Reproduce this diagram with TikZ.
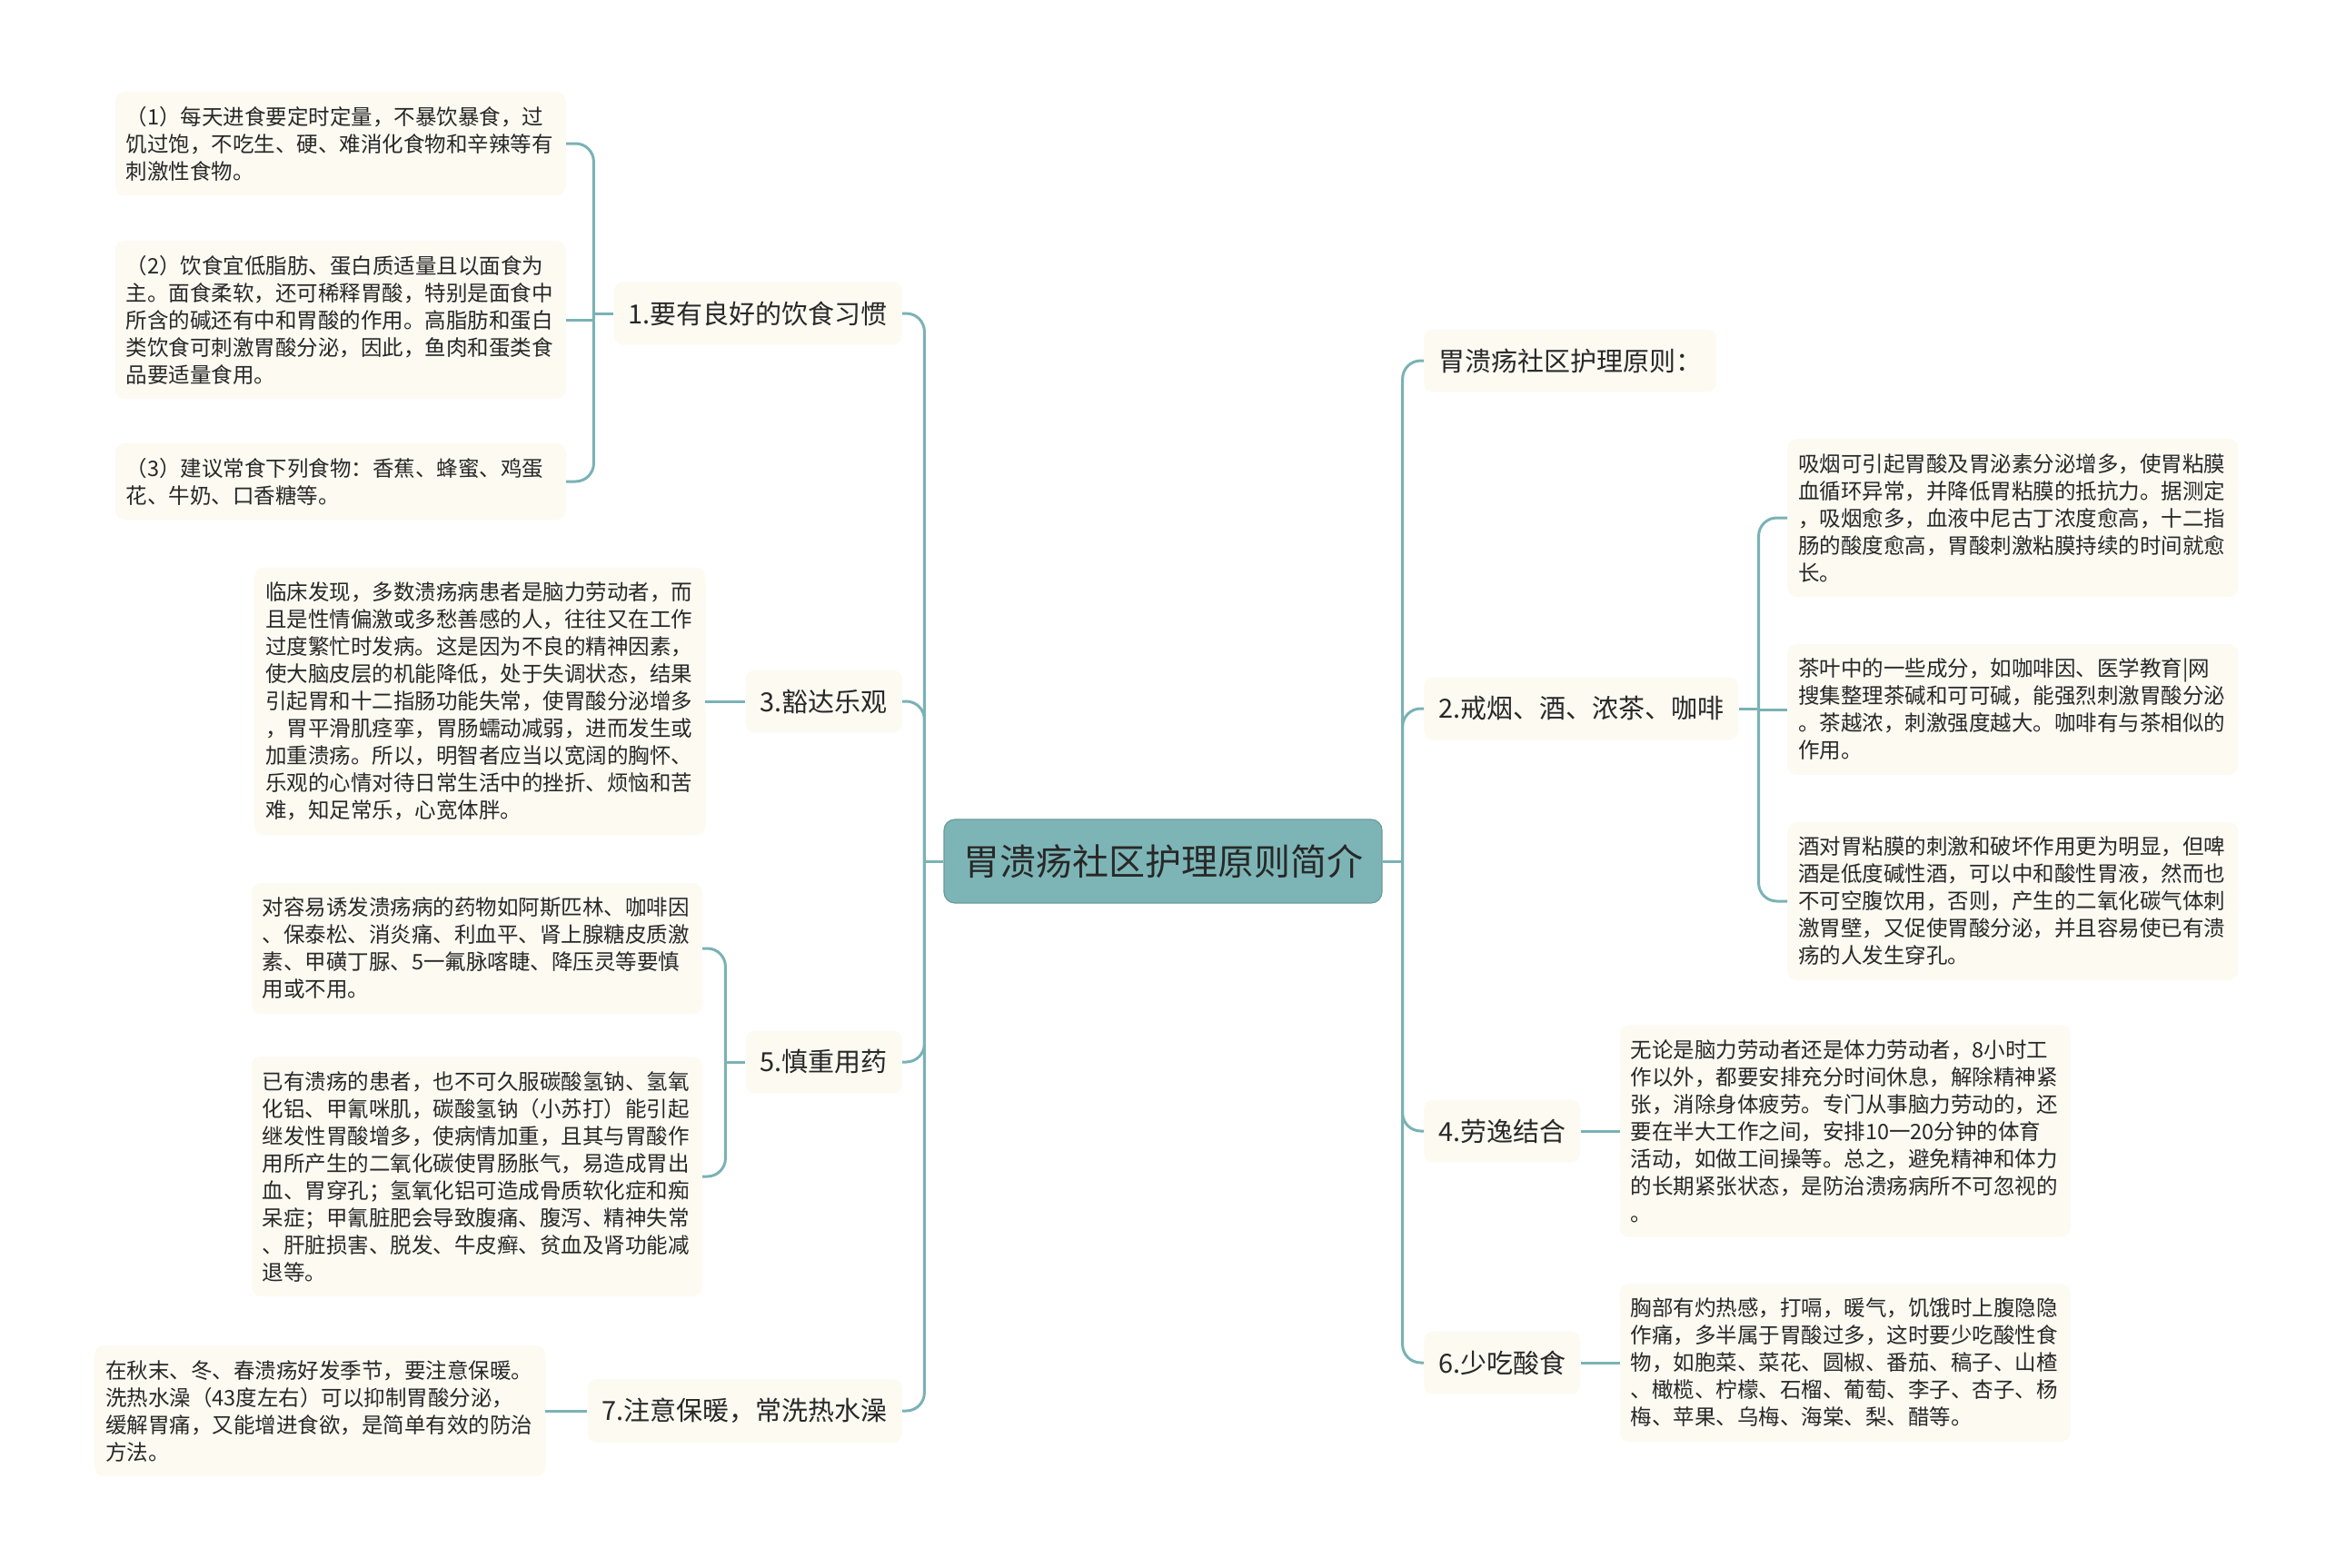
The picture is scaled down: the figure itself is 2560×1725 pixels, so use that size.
\documentclass[tikz,border=0pt]{standalone}
\usepackage{fontspec}
\newfontfamily\cjk{Noto Sans CJK SC}
\usetikzlibrary{positioning}
\definecolor{linecol}{RGB}{122,178,181}
\definecolor{rootcol}{RGB}{125,181,182}
\definecolor{leafcol}{RGB}{253,250,242}
\definecolor{textcol}{RGB}{40,40,40}

\begin{document}
\begin{tikzpicture}[x=1pt, y=-1pt, rootnode/.style={rectangle, rounded corners=12pt, draw=rootcol!85!black, line width=1.2pt, fill=rootcol, text=textcol, font=\cjk\fontsize{40pt}{48pt}\selectfont, inner sep=0pt, minimum width=482pt, minimum height=92pt}, topic/.style={rectangle, rounded corners=10pt, fill=leafcol, text=textcol, font=\cjk\fontsize{29pt}{36pt}\selectfont, inner xsep=16pt, inner ysep=21pt}, leafnode/.style={rectangle, rounded corners=10pt, fill=leafcol, text=textcol, font=\cjk\fontsize{23.5pt}{30pt}\selectfont, text width=472pt, align=left, inner xsep=12pt, inner ysep=16pt}, branch/.style={draw=linecol, line width=3pt, rounded corners=20pt}]
    \useasboundingbox (0,0) rectangle (2560,1725);

    %Nodes
    \node[rootnode](root) at (1280,948){胃溃疡社区护理原则简介};

    \node[topic, anchor=east](diet) at (993,345){1.要有良好的饮食习惯};
    \node[topic, anchor=east](calm) at (993,772){3.豁达乐观};
    \node[topic, anchor=east](drug) at (993,1169){5.慎重用药};
    \node[topic, anchor=east](warm) at (993,1553){7.注意保暖，常洗热水澡};

    \node[topic, anchor=west](principle) at (1567,397){胃溃疡社区护理原则：};
    \node[topic, anchor=west](quit) at (1567,780){2.戒烟、酒、浓茶、咖啡};
    \node[topic, anchor=west](rest) at (1567,1245){4.劳逸结合};
    \node[topic, anchor=west](acid) at (1567,1500){6.少吃酸食};

    \node[leafnode, anchor=east](diet_a) at (623,158){（1）每天进食要定时定量，不暴饮暴食，过\\饥过饱，不吃生、硬、难消化食物和辛辣等有\\刺激性食物。};
    \node[leafnode, anchor=east](diet_b) at (623,352){（2）饮食宜低脂肪、蛋白质适量且以面食为\\主。面食柔软，还可稀释胃酸，特别是面食中\\所含的碱还有中和胃酸的作用。高脂肪和蛋白\\类饮食可刺激胃酸分泌，因此，鱼肉和蛋类食\\品要适量食用。};
    \node[leafnode, anchor=east](diet_c) at (623,530){（3）建议常食下列食物：香蕉、蜂蜜、鸡蛋\\花、牛奶、口香糖等。};

    \node[leafnode](calm_text)[left=44pt of calm]{临床发现，多数溃疡病患者是脑力劳动者，而\\且是性情偏激或多愁善感的人，往往又在工作\\过度繁忙时发病。这是因为不良的精神因素，\\使大脑皮层的机能降低，处于失调状态，结果\\引起胃和十二指肠功能失常，使胃酸分泌增多\\，胃平滑肌痉挛，胃肠蠕动减弱，进而发生或\\加重溃疡。所以，明智者应当以宽阔的胸怀、\\乐观的心情对待日常生活中的挫折、烦恼和苦\\难，知足常乐，心宽体胖。};

    \node[leafnode, anchor=east](drug_a) at (773,1044){对容易诱发溃疡病的药物如阿斯匹林、咖啡因\\、保泰松、消炎痛、利血平、肾上腺糖皮质激\\素、甲磺丁脲、5一氟脉喀睫、降压灵等要慎\\用或不用。};
    \node[leafnode, anchor=east](drug_b) at (773,1295){已有溃疡的患者，也不可久服碳酸氢钠、氢氧\\化铝、甲氰咪肌，碳酸氢钠（小苏打）能引起\\继发性胃酸增多，使病情加重，且其与胃酸作\\用所产生的二氧化碳使胃肠胀气，易造成胃出\\血、胃穿孔；氢氧化铝可造成骨质软化症和痴\\呆症；甲氰脏肥会导致腹痛、腹泻、精神失常\\、肝脏损害、脱发、牛皮癣、贫血及肾功能减\\退等。};

    \node[leafnode](warm_text)[left=46pt of warm]{在秋末、冬、春溃疡好发季节，要注意保暖。\\洗热水澡（43度左右）可以抑制胃酸分泌，\\缓解胃痛，又能增进食欲，是简单有效的防治\\方法。};

    \node[leafnode, anchor=west](quit_a) at (1967,570){吸烟可引起胃酸及胃泌素分泌增多，使胃粘膜\\血循环异常，并降低胃粘膜的抵抗力。据测定\\，吸烟愈多，血液中尼古丁浓度愈高，十二指\\肠的酸度愈高，胃酸刺激粘膜持续的时间就愈\\长。};
    \node[leafnode, anchor=west](quit_b) at (1967,781){茶叶中的一些成分，如咖啡因、医学教育|网\\搜集整理茶碱和可可碱，能强烈刺激胃酸分泌\\。茶越浓，刺激强度越大。咖啡有与茶相似的\\作用。};
    \node[leafnode, anchor=west](quit_c) at (1967,992){酒对胃粘膜的刺激和破坏作用更为明显，但啤\\酒是低度碱性酒，可以中和酸性胃液，然而也\\不可空腹饮用，否则，产生的二氧化碳气体刺\\激胃壁，又促使胃酸分泌，并且容易使已有溃\\疡的人发生穿孔。};

    \node[leafnode](rest_text)[right=43pt of rest]{无论是脑力劳动者还是体力劳动者，8小时工\\作以外，都要安排充分时间休息，解除精神紧\\张，消除身体疲劳。专门从事脑力劳动的，还\\要在半大工作之间，安排10一20分钟的体育\\活动，如做工间操等。总之，避免精神和体力\\的长期紧张状态，是防治溃疡病所不可忽视的\\。};
    \node[leafnode](acid_text)[right=43pt of acid]{胸部有灼热感，打嗝，暖气，饥饿时上腹隐隐\\作痛，多半属于胃酸过多，这时要少吃酸性食\\物，如胞菜、菜花、圆椒、番茄、稿子、山楂\\、橄榄、柠檬、石榴、葡萄、李子、杏子、杨\\梅、苹果、乌梅、海棠、梨、醋等。};

    %Lines
    \coordinate (left_trunk) at ([xshift=-21pt]root.west);
    \coordinate (right_trunk) at ([xshift=22pt]root.east);
    \draw[branch] (root.west) -- (left_trunk);
    \draw[branch] (root.east) -- (right_trunk);
    \draw[branch] (left_trunk) |- (diet.east);
    \draw[branch] (left_trunk) |- (calm.east);
    \draw[branch] (left_trunk) |- (drug.east);
    \draw[branch] (left_trunk) |- (warm.east);
    \draw[branch] (right_trunk) |- (principle.west);
    \draw[branch] (right_trunk) |- (quit.west);
    \draw[branch] (right_trunk) |- (rest.west);
    \draw[branch] (right_trunk) |- (acid.west);

    \coordinate (diet_fork) at ([xshift=-22pt]diet.west);
    \draw[branch] (diet.west) -- (diet_fork);
    \draw[branch] (diet_fork) |- (diet_a.east);
    \draw[branch] (diet_fork) |- (diet_c.east);
    \draw[branch] (diet_b.east) -- (diet_b.east -| diet_fork);

    \draw[branch] (calm.west) -- (calm_text.east);

    \coordinate (drug_fork) at ([xshift=-22pt]drug.west);
    \draw[branch] (drug.west) -- (drug_fork);
    \draw[branch] (drug_fork) |- (drug_a.east);
    \draw[branch] (drug_fork) |- (drug_b.east);

    \draw[branch] (warm.west) -- (warm_text.east);

    \coordinate (quit_fork) at ([xshift=22pt]quit.east);
    \draw[branch] (quit.east) -- (quit_fork);
    \draw[branch] (quit_fork) |- (quit_a.west);
    \draw[branch] (quit_fork) |- (quit_c.west);
    \draw[branch] (quit_b.west) -- (quit_b.west -| quit_fork);

    \draw[branch] (rest.east) -- (rest_text.west);
    \draw[branch] (acid.east) -- (acid_text.west);

\end{tikzpicture}
\end{document}
